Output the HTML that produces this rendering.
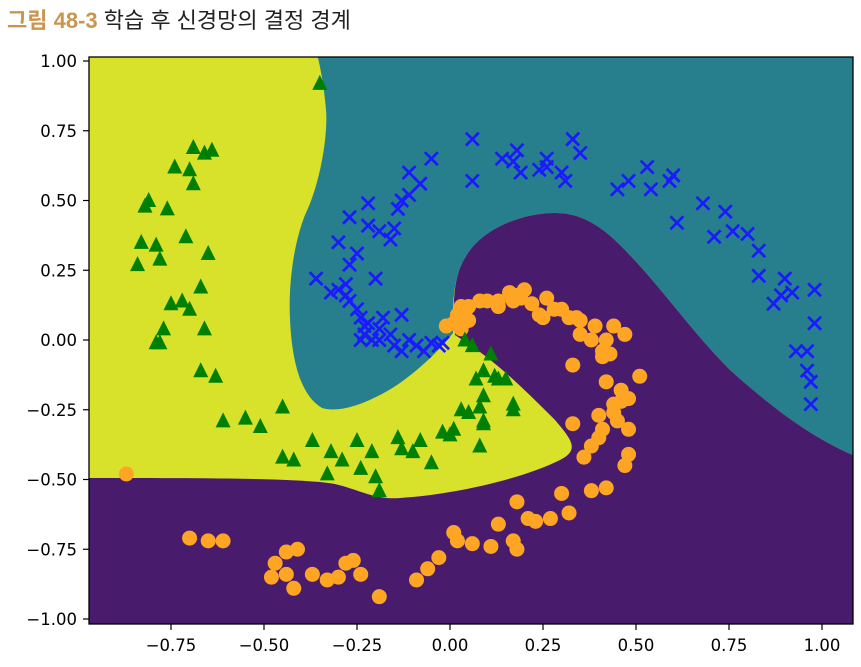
<!DOCTYPE html>
<html><head><meta charset="utf-8"><style>
body{margin:0;background:#fff;width:861px;height:667px;overflow:hidden;font-family:"Liberation Sans","Noto Sans CJK KR",sans-serif}
#title{position:absolute;left:7px;top:3px;font-size:22px;color:#222;font-family:"Liberation Sans","Noto Sans CJK KR",sans-serif}
#title b{color:#c9964f}
svg{position:absolute;left:0;top:0}
text{font-family:"DejaVu Sans","Liberation Sans",sans-serif;font-size:16.5px;fill:#000}
</style></head><body>
<div id="title"><b>그림 48-3</b> 학습 후 신경망의 결정 경계</div>
<svg id="chart" width="861" height="667">
<defs><clipPath id="clip"><rect x="89" y="57" width="764" height="567"/></clipPath></defs>
<g clip-path="url(#clip)">
<rect x="89" y="57" width="764" height="567" fill="#d8e22b"/>
<path fill="#277f8e" d="M316,50 L860,50 L860,458 C820,442 780,415 730,370 C690,330 660,285 620,245 C595,220 575,213 555,213 C520,213 480,230 465,258 C455,275 452,295 453,333 C440,350 410,380 380,395 C355,408 335,412 322,408 C300,395 292,360 290,320 C288,280 295,240 305,215 C322,180 328,130 326,110 C324,85 320,65 316,50 Z"/>
<path fill="#481b6d" d="M80,478 C200,478 300,478 335,484 C360,490 375,500 400,498 C450,495 520,480 560,460 C580,450 572,440 555,420 C530,395 500,365 470,345 L455,335 C452,295 455,275 465,258 C480,230 520,213 555,213 C575,213 595,220 620,245 C660,285 690,330 730,370 C780,415 820,442 860,458 L860,630 L80,630 Z"/>
</g>
<g id="marks" clip-path="url(#clip)"></g>
<rect x="89" y="57" width="764" height="567" fill="none" stroke="#000" stroke-width="1.3"/>
<g id="axes"></g>
</svg>
<script>
const xTicks=[-0.75,-0.5,-0.25,0,0.25,0.5,0.75,1.0];
const xTickLabels=["−0.75","−0.50","−0.25","0.00","0.25","0.50","0.75","1.00"];
const yTicks=[1.0,0.75,0.5,0.25,0,-0.25,-0.5,-0.75,-1.0];
const yTickLabels=["1.00","0.75","0.50","0.25","0.00","−0.25","−0.50","−0.75","−1.00"];
const triX=[-0.35,-0.69,-0.66,-0.74,-0.64,-0.70,-0.69,-0.81,-0.82,-0.76,-0.83,-0.79,-0.71,-0.65,-0.78,-0.84,-0.67,-0.72,-0.75,-0.70,-0.77,-0.78,-0.79,-0.66,-0.67,-0.63,-0.61,-0.55,-0.51,-0.45,-0.45,-0.42,-0.37,-0.32,-0.29,-0.25,-0.24,-0.20,-0.21,-0.14,-0.13,-0.33,-0.10,-0.05,-0.02,0.01,0.03,0.08,0.05,0.08,0.09,0.07,0.09,0.12,0.13,0.15,0.11,0.06,0.04,0.17,0.17,0.09,0.09,-0.19,-0.08,0.00];
const triY=[0.92,0.69,0.67,0.62,0.68,0.61,0.56,0.50,0.48,0.47,0.35,0.34,0.37,0.31,0.29,0.27,0.19,0.14,0.13,0.11,0.04,-0.01,-0.01,0.04,-0.11,-0.13,-0.29,-0.28,-0.31,-0.24,-0.42,-0.43,-0.36,-0.40,-0.43,-0.36,-0.46,-0.49,-0.40,-0.35,-0.39,-0.48,-0.40,-0.44,-0.33,-0.32,-0.25,-0.38,-0.26,-0.24,-0.20,-0.14,-0.11,-0.13,-0.14,-0.14,-0.05,-0.02,0.00,-0.25,-0.23,-0.29,-0.30,-0.54,-0.36,-0.34];
const crossX=[0.06,0.14,0.18,0.17,0.19,0.06,0.26,0.26,0.30,0.33,0.35,0.24,0.31,0.45,0.48,0.53,0.54,0.60,0.59,0.61,0.68,0.71,0.74,0.76,0.80,0.83,0.83,0.90,0.89,0.87,0.92,0.98,0.93,0.96,0.96,0.97,0.97,0.98,-0.05,-0.11,-0.08,-0.13,-0.19,-0.22,-0.16,-0.30,-0.25,-0.27,-0.22,-0.27,-0.36,-0.20,-0.32,-0.30,-0.28,-0.28,-0.27,-0.25,-0.24,-0.23,-0.22,-0.19,-0.18,-0.24,-0.21,-0.19,-0.16,-0.15,-0.13,-0.11,-0.09,-0.07,-0.05,-0.03,-0.02,-0.14,-0.11,-0.15,-0.23,-0.13];
const crossY=[0.72,0.65,0.68,0.64,0.60,0.57,0.65,0.62,0.60,0.72,0.67,0.61,0.57,0.54,0.57,0.62,0.54,0.59,0.57,0.42,0.49,0.37,0.46,0.39,0.38,0.32,0.23,0.22,0.16,0.13,0.17,0.18,-0.04,-0.04,-0.11,-0.15,-0.23,0.06,0.65,0.60,0.56,0.50,0.39,0.41,0.36,0.35,0.31,0.44,0.49,0.27,0.22,0.22,0.17,0.18,0.20,0.16,0.14,0.11,0.08,0.05,0.06,0.04,0.08,0.00,0.00,0.00,0.02,-0.02,-0.04,0.00,-0.02,-0.04,-0.01,-0.02,-0.01,0.47,0.52,0.40,0.02,0.09];
const circX=[-0.87,-0.70,-0.65,-0.61,-0.48,-0.47,-0.44,-0.42,-0.44,-0.41,-0.37,-0.33,-0.30,-0.28,-0.26,-0.24,-0.19,-0.09,-0.06,-0.03,0.01,0.02,0.06,0.11,0.13,0.18,0.17,0.18,0.21,0.23,0.27,0.32,0.30,0.36,0.38,0.40,0.41,0.40,0.44,0.44,0.46,0.48,0.48,0.47,0.48,0.42,0.38,0.33,0.33,0.51,0.46,0.42,0.41,0.41,0.39,0.44,0.47,0.42,0.38,0.35,0.34,0.32,0.30,0.26,0.25,0.28,0.22,0.20,0.17,0.16,0.19,0.13,0.10,0.08,0.05,0.03,0.02,0.03,0.01,-0.01,0.05,0.04,0.13,0.18,0.24,0.35,0.43,0.45];
const circY=[-0.48,-0.71,-0.72,-0.72,-0.85,-0.80,-0.76,-0.89,-0.84,-0.75,-0.84,-0.86,-0.85,-0.80,-0.79,-0.84,-0.92,-0.86,-0.82,-0.78,-0.69,-0.72,-0.73,-0.74,-0.66,-0.58,-0.72,-0.75,-0.64,-0.65,-0.64,-0.62,-0.55,-0.42,-0.38,-0.35,-0.32,-0.27,-0.26,-0.23,-0.22,-0.21,-0.32,-0.45,-0.41,-0.53,-0.54,-0.30,-0.09,-0.13,-0.18,-0.15,-0.06,-0.04,0.05,0.05,0.02,0.00,0.00,0.02,0.08,0.08,0.11,0.15,0.08,0.11,0.13,0.18,0.14,0.17,0.15,0.14,0.14,0.14,0.12,0.12,0.09,0.04,0.06,0.05,0.07,0.09,0.12,0.16,0.09,0.07,-0.05,-0.29];
const NS="http://www.w3.org/2000/svg";
function sx(v){return 450+372*v;}
function sy(v){return 340-279*v;}
function mk(tag,attrs,parent){const e=document.createElementNS(NS,tag);for(const k in attrs)e.setAttribute(k,attrs[k]);parent.appendChild(e);return e;}
const marks=document.getElementById('marks');
const axes=document.getElementById('axes');
circX.forEach((v,i)=>{
  const c=mk('circle',{cx:sx(v),cy:sy(circY[i]),r:7.5,fill:'#ffa524'},marks);
  
  
});
crossX.forEach((v,i)=>{
  const x=sx(v),y=sy(crossY[i]),d=6.5;
  const p=mk('path',{d:`M${x-d},${y-d}L${x+d},${y+d}M${x-d},${y+d}L${x+d},${y-d}`,stroke:'#1a1aff','stroke-width':2.7,fill:'none'},marks);
  
  
});
triX.forEach((v,i)=>{
  const x=sx(v),y=sy(triY[i]);
  const p=mk('path',{d:`M${x},${y-8.5}L${x+7.5},${y+6.5}L${x-7.5},${y+6.5}Z`,fill:'#008000'},marks);
  
  
});
xTicks.forEach((v,i)=>{
  const x=sx(v);
  const t=mk('line',{x1:x,x2:x,y1:624,y2:630,stroke:'#000','stroke-width':1.2},axes);
  
  
  const l=mk('text',{x:x,y:651,'text-anchor':'middle'},axes);
  l.textContent=xTickLabels[i];
  
  
});
yTicks.forEach((v,i)=>{
  const y=sy(v);
  const t=mk('line',{x1:83,x2:89,y1:y,y2:y,stroke:'#000','stroke-width':1.2},axes);
  
  
  const l=mk('text',{x:77,y:y+6,'text-anchor':'end'},axes);
  l.textContent=yTickLabels[i];
  
  
});
</script>
</body></html>
